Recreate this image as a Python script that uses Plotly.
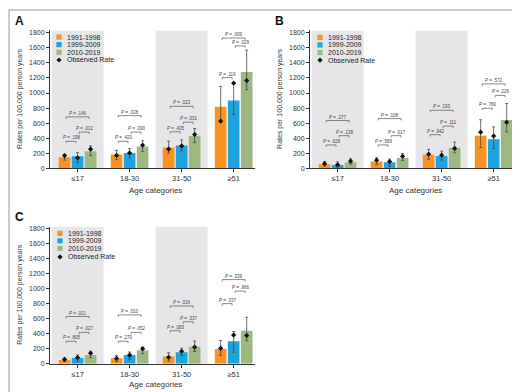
import plotly.graph_objects as go

W, H = 520, 392

categories = ["≤17", "18-30", "31-50", "≥51"]
periods = ["1991-1998", "1999-2009", "2010-2019"]
colors = ["#F7931E", "#1DA3DD", "#9DB981"]

# ---------------- Panel A ----------------
a_1991 = [148, 183, 276, 817]
a_1991_lo = [110, 115, 200, 610]
a_1991_hi = [185, 240, 362, 1086]
a_1991_obs = [170, 172, 256, 628]
a_1999 = [160, 203, 305, 900]
a_1999_lo = [80, 140, 232, 714]
a_1999_hi = [208, 262, 377, 1130]
a_1999_obs = [140, 205, 298, 1130]
a_2010 = [228, 290, 430, 1278]
a_2010_lo = [170, 222, 342, 1045]
a_2010_hi = [298, 366, 528, 1570]
a_2010_obs = [255, 308, 450, 1165]
a_p_ob = [".198", ".420", ".435", ".119"]
a_p_bg = [".012", ".090", ".031", ".029"]
a_p_og = [".146", ".028", ".023", ".009"]
a_h_ob = [359, 359, 486, 1205]
a_h_bg = [482, 482, 613, 1625]
a_h_og = [683, 700, 823, 1730]

# ---------------- Panel B ----------------
b_1991 = [55, 92, 182, 432]
b_1991_lo = [30, 53, 118, 276]
b_1991_hi = [92, 140, 252, 645]
b_1991_obs = [62, 108, 188, 480]
b_1999 = [45, 82, 165, 386]
b_1999_lo = [18, 31, 110, 263]
b_1999_hi = [86, 123, 228, 550]
b_1999_obs = [48, 90, 175, 428]
b_2010 = [82, 137, 275, 642]
b_2010_lo = [57, 105, 206, 485]
b_2010_hi = [128, 197, 348, 860]
b_2010_obs = [95, 160, 265, 612]
b_p_ob = [".628", ".589", ".942", ".780"]
b_p_bg = [".138", ".017", ".111", ".226"]
b_p_og = [".277", ".108", ".193", ".572"]
b_h_ob = [311, 311, 447, 798]
b_h_bg = [434, 434, 561, 968]
b_h_og = [635, 661, 771, 1121]

# ---------------- Panel C ----------------
c_1991 = [50, 72, 96, 195]
c_1991_lo = [28, 26, 35, 110]
c_1991_hi = [74, 105, 145, 310]
c_1991_obs = [57, 70, 85, 205]
c_1999 = [76, 115, 152, 298]
c_1999_lo = [31, 60, 110, 153]
c_1999_hi = [118, 155, 206, 428]
c_1999_obs = [82, 115, 166, 382]
c_2010 = [115, 178, 225, 440]
c_2010_lo = [79, 132, 162, 307]
c_2010_hi = [166, 222, 302, 620]
c_2010_obs = [140, 198, 222, 375]
c_p_ob = [".805", ".270", ".083", ".337"]
c_p_bg = [".027", ".052", ".337", ".966"]
c_p_og = [".021", ".010", ".016", ".339"]
c_h_ob = [299, 299, 440, 802]
c_h_bg = [418, 418, 560, 970]
c_h_og = [630, 652, 771, 1124]

y_ticks = [0, 200, 400, 600, 800, 1000, 1200, 1400, 1600, 1800]

FONT = "Liberation Sans, Arial, sans-serif"
AX = "#333333"
BARGAP = 0.25

def px(x):
    return x / W

def py(y):
    return 1 - y / H

panels = [
    dict(letter="A", xid="x", yid="y", xl=42, yt=21.7, yb=161, lx=51, ly=[28.3, 36.0, 43.7, 51.5],
         series=[(a_1991, a_1991_lo, a_1991_hi, a_1991_obs), (a_1999, a_1999_lo, a_1999_hi, a_1999_obs),
                 (a_2010, a_2010_lo, a_2010_hi, a_2010_obs)],
         p=(a_p_ob, a_p_bg, a_p_og), h=(a_h_ob, a_h_bg, a_h_og), lettery=12, xt=183),
    dict(letter="B", xid="x2", yid="y2", xl=302, yt=21.7, yb=161, lx=312, ly=[28.7, 36.3, 44.0, 51.7],
         series=[(b_1991, b_1991_lo, b_1991_hi, b_1991_obs), (b_1999, b_1999_lo, b_1999_hi, b_1999_obs),
                 (b_2010, b_2010_lo, b_2010_hi, b_2010_obs)],
         p=(b_p_ob, b_p_bg, b_p_og), h=(b_h_ob, b_h_bg, b_h_og), lettery=12, xt=183),
    dict(letter="C", xid="x3", yid="y3", xl=42, yt=220, yb=358.3, lx=52, ly=[226.7, 234.3, 242.0, 250.5],
         series=[(c_1991, c_1991_lo, c_1991_hi, c_1991_obs), (c_1999, c_1999_lo, c_1999_hi, c_1999_obs),
                 (c_2010, c_2010_lo, c_2010_hi, c_2010_obs)],
         p=(c_p_ob, c_p_bg, c_p_og), h=(c_h_ob, c_h_bg, c_h_og), lettery=210, xt=379),
]

fig = go.Figure()
shapes = []
annotations = []
layout_axes = {}

slot = (1 - BARGAP) / 3
offsets = [(k - 1) * slot for k in range(3)]
xs = list(range(len(categories)))

for pi, P in enumerate(panels):
    xid, yid = P["xid"], P["yid"]
    xname = "xaxis" + xid[1:]
    yname = "yaxis" + yid[1:]
    for k, (vals, lo, hi, obs) in enumerate(P["series"]):
        fig.add_trace(go.Bar(
            x=xs, y=vals, xaxis=xid, yaxis=yid, name=periods[k], showlegend=False,
            marker=dict(color=colors[k], line=dict(width=0)),
            error_y=dict(type="data", symmetric=False,
                         array=[h_ - v for h_, v in zip(hi, vals)],
                         arrayminus=[v - l for l, v in zip(lo, vals)],
                         color="#4a4a4a", thickness=0.8, width=1.5),
        ))
    for k, (vals, lo, hi, obs) in enumerate(P["series"]):
        fig.add_trace(go.Scatter(
            x=[i + offsets[k] for i in xs], y=obs, xaxis=xid, yaxis=yid, mode="markers",
            showlegend=False, marker=dict(symbol="diamond", size=4, color="#111111"),
        ))
    layout_axes[xname] = dict(
        domain=[px(P["xl"]), px(P["xl"] + 205)], range=[-0.53, 3.41], anchor=yid,
        tickmode="array", tickvals=xs, ticktext=categories,
        showline=True, linecolor=AX, linewidth=1, ticks="outside", ticklen=3, tickcolor=AX,
        tickfont=dict(family=FONT, size=7.5, color="#333"), showgrid=False, zeroline=False,
    )
    layout_axes[yname] = dict(
        domain=[py(P["yb"]), py(P["yt"])], range=[0, 1830], anchor=xid,
        tickmode="array", tickvals=y_ticks,
        showline=True, linecolor=AX, linewidth=1, ticks="outside", ticklen=3, tickcolor=AX,
        tickfont=dict(family=FONT, size=7, color="#333"), showgrid=False, zeroline=False,
    )
    for b0 in (-0.5, 1.5):
        shapes.append(dict(type="rect", xref=xid, yref=yid + " domain", x0=b0, x1=b0 + 1, y0=0, y1=1,
                           fillcolor="#E6E6E8", line=dict(width=0), layer="below"))
    pairs = [(0, 1), (1, 2), (0, 2)]
    d = 25
    for (k1, k2), ptxt, ph in zip(pairs, P["p"], P["h"]):
        for i in xs:
            x1 = i + offsets[k1] + 0.03
            x2 = i + offsets[k2] - 0.03
            y = ph[i]
            shapes.append(dict(type="path", xref=xid, yref=yid,
                               path=f"M {x1},{y - d} L {x1},{y} L {x2},{y} L {x2},{y - d}",
                               line=dict(color="#555", width=0.7)))
            annotations.append(dict(xref=xid, yref=yid, x=(x1 + x2) / 2, y=y, yanchor="bottom",
                                    xanchor="center", showarrow=False, yshift=-1,
                                    text=f"<i>P</i> = {ptxt[i]}",
                                    font=dict(family=FONT, size=4.5, color="#444")))
    for k in range(3):
        cx, cy = P["lx"], P["ly"][k]
        shapes.append(dict(type="rect", xref="paper", yref="paper",
                           x0=px(cx - 2.6), x1=px(cx + 2.6), y0=py(cy + 2.6), y1=py(cy - 2.6),
                           fillcolor=colors[k], line=dict(width=0)))
        annotations.append(dict(xref="paper", yref="paper", x=px(cx + 5.5), y=py(cy), xanchor="left",
                                yanchor="middle", showarrow=False, text=periods[k],
                                font=dict(family=FONT, size=7, color="#222")))
    cx, cy = P["lx"], P["ly"][3]
    r = 2.6
    shapes.append(dict(type="path", xref="paper", yref="paper",
                       path=f"M {px(cx)},{py(cy - r)} L {px(cx + r)},{py(cy)} L {px(cx)},{py(cy + r)} L {px(cx - r)},{py(cy)} Z",
                       fillcolor="#111", line=dict(width=0)))
    annotations.append(dict(xref="paper", yref="paper", x=px(cx + 5.5), y=py(cy), xanchor="left",
                            yanchor="middle", showarrow=False, text="Observed Rate",
                            font=dict(family=FONT, size=7, color="#222")))
    annotations.append(dict(xref="paper", yref="paper", x=px(P["xl"] - 30), y=py((P["yt"] + P["yb"]) / 2 - 0.5),
                            xanchor="center", yanchor="middle", showarrow=False, textangle=-90,
                            text="Rates per 100,000 person years",
                            font=dict(family=FONT, size=7, color="#333")))
    annotations.append(dict(xref="paper", yref="paper", x=px(P["xl"] + 105), y=py(P["xt"]),
                            xanchor="center", yanchor="middle", showarrow=False, text="Age categories",
                            font=dict(family=FONT, size=8, color="#333")))
    annotations.append(dict(xref="paper", yref="paper", x=px(P["xl"] - 31), y=py(P["lettery"]),
                            xanchor="center", yanchor="middle", showarrow=False, text=f"<b>{P['letter']}</b>",
                            font=dict(family=FONT, size=12, color="#111")))

shapes.append(dict(type="rect", xref="paper", yref="paper", x0=px(1), x1=px(517.5), y0=py(390), y1=py(1),
                   line=dict(color="#9a9a9a", width=1), fillcolor="rgba(0,0,0,0)"))

fig.update_layout(
    width=W, height=H, margin=dict(l=0, r=0, t=0, b=0),
    paper_bgcolor="white", plot_bgcolor="rgba(0,0,0,0)",
    barmode="group", bargap=BARGAP, bargroupgap=0.1,
    showlegend=False, shapes=shapes, annotations=annotations,
    font=dict(family=FONT),
    **layout_axes,
)

fig.write_html("out.html")
